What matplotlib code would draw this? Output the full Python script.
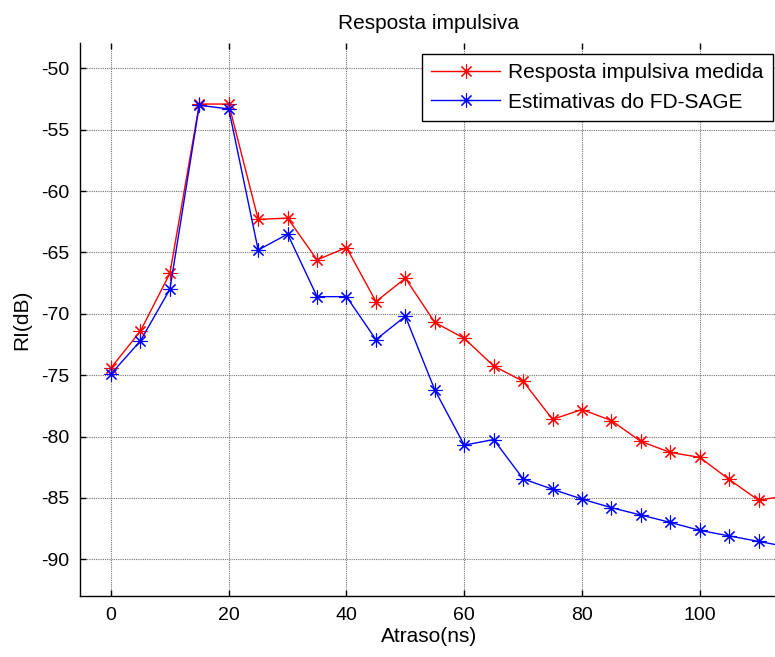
import matplotlib
matplotlib.use("Agg")
import matplotlib.pyplot as plt
import numpy as np

plt.rcParams["font.family"] = ["Liberation Sans", "DejaVu Sans"]
plt.rcParams["axes.unicode_minus"] = False

# delay axis (ns) and impulse response levels (dB)
delay_ns = np.arange(0, 120, 5)
measured_db = [-74.4, -71.4, -66.7, -52.9, -52.9, -62.3, -62.2, -65.6, -64.6, -69.0,
               -67.1, -70.7, -72.0, -74.25, -75.5, -78.6, -77.8, -78.7, -80.4, -81.3,
               -81.7, -83.5, -85.2, -84.8]
sage_db = [-74.9, -72.2, -68.0, -53.0, -53.3, -64.8, -63.5, -68.6, -68.6, -72.1,
           -70.2, -76.2, -80.7, -80.25, -83.45, -84.3, -85.1, -85.8, -86.4, -87.0,
           -87.65, -88.1, -88.55, -89.0]

labels = ["Resposta impulsiva medida", "Estimativas do FD-SAGE"]
x_ticks = [0, 20, 40, 60, 80, 100]
y_ticks = [-90, -85, -80, -75, -70, -65, -60, -55, -50]

W, H = 775, 657
fig = plt.figure(figsize=(W / 100, H / 100), dpi=100)
left, right, bottom, top = 80, 778, 596, 42.7
ax = fig.add_axes([left / W, 1 - bottom / H, (right - left) / W, (bottom - top) / H])

# asterisk markers, 8 arms
star = (8, 2, 0)
ax.plot(delay_ns, measured_db, color="red", lw=1.0, marker=star, ms=10, mew=0.8, label=labels[0])
ax.plot(delay_ns, sage_db, color="blue", lw=1.0, marker=star, ms=10, mew=0.8, label=labels[1])

ax.set_xlim(-5.27, 113.3)
ax.set_ylim(-93, -47.9)
ax.set_xticks(x_ticks)
ax.set_yticks(y_ticks)
ax.tick_params(direction="in", length=4, width=1, labelsize=14, top=True, pad=8)
ax.grid(True, color=(0.45, 0.45, 0.45), linestyle=(0, (1, 1)), linewidth=0.8)
ax.spines["top"].set_visible(False)
ax.spines["right"].set_visible(False)
for side in ("left", "bottom"):
    ax.spines[side].set_linewidth(1.0)

ax.set_title("Resposta impulsiva", fontsize=15, pad=10)
ax.set_xlabel("Atraso(ns)", fontsize=15, labelpad=2)
ax.set_ylabel("RI(dB)", fontsize=15, labelpad=7)

leg = ax.legend(loc="upper left", bbox_to_anchor=(422 / W, 1 - 54 / H),
                bbox_transform=fig.transFigure, fontsize=15, handlelength=3.3,
                fancybox=False, framealpha=1, edgecolor="black", borderaxespad=0,
                borderpad=0.45, labelspacing=0.5, handletextpad=0.4)
leg.get_frame().set_linewidth(1.0)

fig.savefig("out.png", dpi=100)
